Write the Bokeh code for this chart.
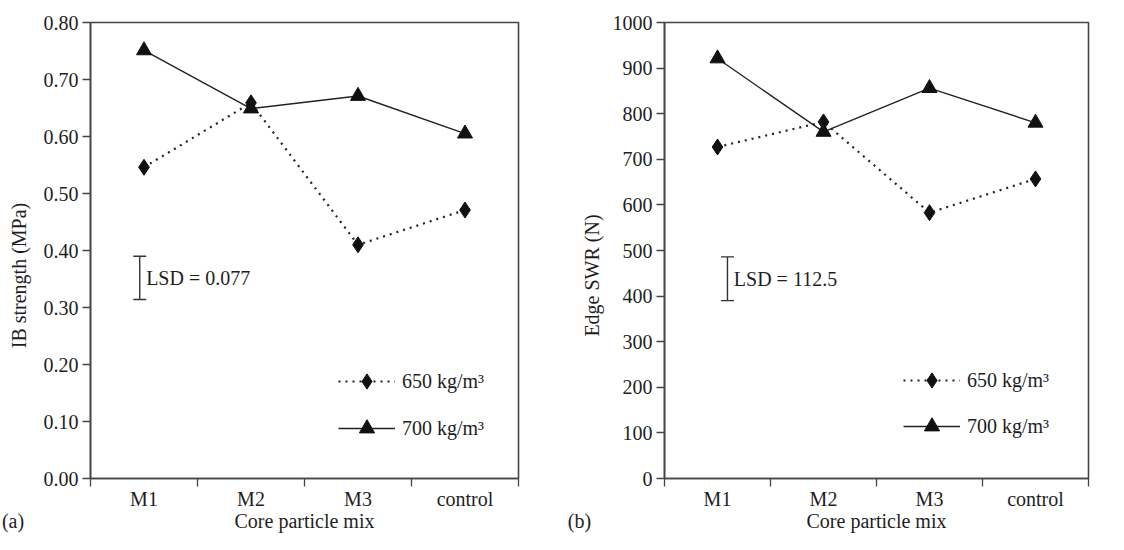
from bokeh.plotting import figure
from bokeh.models import (Range1d, FixedTicker, NumeralTickFormatter, Label,
                          Legend, LegendItem, Whisker, TeeHead, ColumnDataSource)
from bokeh.layouts import row
from bokeh.embed import file_html
from bokeh.resources import INLINE

# ---------------- data ----------------
categories = ["M1", "M2", "M3", "control"]
ib_650 = [0.546, 0.659, 0.410, 0.471]
ib_700 = [0.751, 0.649, 0.671, 0.605]
swr_650 = [727, 782, 583, 657]
swr_700 = [921, 760, 856, 780]
series_labels = ["650 kg/m³", "700 kg/m³"]
ib_ticks = [0.0, 0.1, 0.2, 0.3, 0.4, 0.5, 0.6, 0.7, 0.8]
swr_ticks = [0, 100, 200, 300, 400, 500, 600, 700, 800, 900, 1000]
lsd_a_text = "LSD = 0.077"
lsd_a_range = [0.314, 0.390]
lsd_b_text = "LSD = 112.5"
lsd_b_range = [390, 486]
x_title = "Core particle mix"
y_title_a = "IB strength (MPa)"
y_title_b = "Edge SWR (N)"
panel_letters = ["(a)", "(b)"]

FONT = "Liberation Serif"
FS = "20px"
AX = "#454545"
INK = "#111111"
TXT = "#1e1e1e"
NB = "\u00a0"


def panel(width, borders, y_end, yticks, yfmt, s650, s700, ytitle, y_pad,
          y_standoff, lsd_x, lsd_rng, lsd_text, letter, letter_pad, leg_loc, leg_sp):
    bl, br, bt, bb = borders
    p = figure(width=width, height=534, x_range=Range1d(0, len(categories)),
               y_range=Range1d(0, y_end), output_backend="svg", toolbar_location=None,
               min_border_left=bl, min_border_right=br, min_border_top=bt,
               min_border_bottom=bb, background_fill_color="white",
               border_fill_color="white")
    p.xgrid.visible = False
    p.ygrid.visible = False
    p.outline_line_color = AX
    p.outline_line_width = 1.6

    n = len(categories)
    xs = [i + 0.5 for i in range(n)]
    bounds = [float(i) for i in range(n + 1)]

    # x axis: category names at band centres, tick marks at band borders,
    # second text row carries the axis title and the panel letter
    overrides = {x: c for x, c in zip(xs, categories)}
    overrides[0.0] = NB + "\n" + letter + NB * letter_pad
    overrides[n / 2] = NB + "\n" + x_title
    xa = p.xaxis[0]
    xa.ticker = FixedTicker(ticks=sorted(list(overrides.keys())), minor_ticks=bounds)
    xa.major_label_overrides = overrides
    xa.major_tick_line_color = None
    xa.major_tick_out = 8
    xa.major_tick_in = 0
    xa.minor_tick_line_color = AX
    xa.minor_tick_line_width = 1.3
    xa.minor_tick_in = 0
    xa.minor_tick_out = 8
    xa.axis_line_color = AX
    xa.axis_line_width = 1.6
    xa.major_label_text_font = FONT
    xa.major_label_text_font_size = FS
    xa.major_label_text_color = TXT
    xa.major_label_text_line_height = 1.0
    xa.major_label_standoff = 1

    ya = p.yaxis[0]
    ya.ticker = FixedTicker(ticks=yticks, minor_ticks=[])
    ya.formatter = NumeralTickFormatter(format=yfmt)
    ya.major_tick_in = 0
    ya.major_tick_out = 8
    ya.major_tick_line_color = AX
    ya.major_tick_line_width = 1.3
    ya.axis_line_color = AX
    ya.axis_line_width = 1.6
    ya.major_label_text_font = FONT
    ya.major_label_text_font_size = FS
    ya.major_label_text_color = TXT
    ya.major_label_standoff = 4
    ya.axis_label = ytitle + NB * y_pad
    ya.axis_label_text_font = FONT
    ya.axis_label_text_font_size = FS
    ya.axis_label_text_font_style = "normal"
    ya.axis_label_text_color = TXT
    ya.axis_label_standoff = y_standoff

    l1 = p.line(xs, s650, line_color="#222222", line_width=2.2, line_dash="2 5")
    m1 = p.scatter(xs, s650, marker="diamond", size=16, fill_color=INK, line_color=INK)
    l2 = p.line(xs, s700, line_color="#222222", line_width=1.4)
    m2 = p.scatter(xs, s700, marker="triangle", size=15, fill_color=INK, line_color=INK)

    legend = Legend(items=[LegendItem(label=series_labels[0], renderers=[l1, m1]),
                           LegendItem(label=series_labels[1], renderers=[l2, m2])],
                    location=leg_loc, orientation="vertical",
                    glyph_width=57, glyph_height=38, label_height=38,
                    label_standoff=7, spacing=leg_sp, padding=0, margin=0,
                    border_line_color=None, background_fill_alpha=0,
                    label_text_font=FONT, label_text_font_size=FS,
                    label_text_color=TXT)
    p.add_layout(legend)

    src = ColumnDataSource(dict(base=[lsd_x], lower=[lsd_rng[0]], upper=[lsd_rng[1]]))
    w = Whisker(base="base", lower="lower", upper="upper", source=src,
                dimension="height", line_color="#333333", line_width=1.4,
                upper_head=TeeHead(size=13, line_color="#333333", line_width=1.4),
                lower_head=TeeHead(size=13, line_color="#333333", line_width=1.4))
    p.add_layout(w)
    p.add_layout(Label(x=lsd_x + 0.06, y=(lsd_rng[0] + lsd_rng[1]) / 2, text=lsd_text,
                       text_font=FONT, text_font_size=FS, text_color=TXT,
                       text_baseline="middle", text_align="left"))
    return p


pa = panel(560, (90, 42, 22, 53), 0.8, ib_ticks, "0.00", ib_650, ib_700,
           y_title_a, 10, 11, 0.46, lsd_a_range, lsd_a_text,
           panel_letters[0], 31, (248, 31), 9)
pb = panel(548, (104, 20, 22, 53), 1000, swr_ticks, "0", swr_650, swr_700,
           y_title_b, 10, 7, 0.594, lsd_b_range, lsd_b_text,
           panel_letters[1], 34, (239, 33), 8)

layout = row(pa, pb)
open("out.html", "w").write(file_html(layout, INLINE))
